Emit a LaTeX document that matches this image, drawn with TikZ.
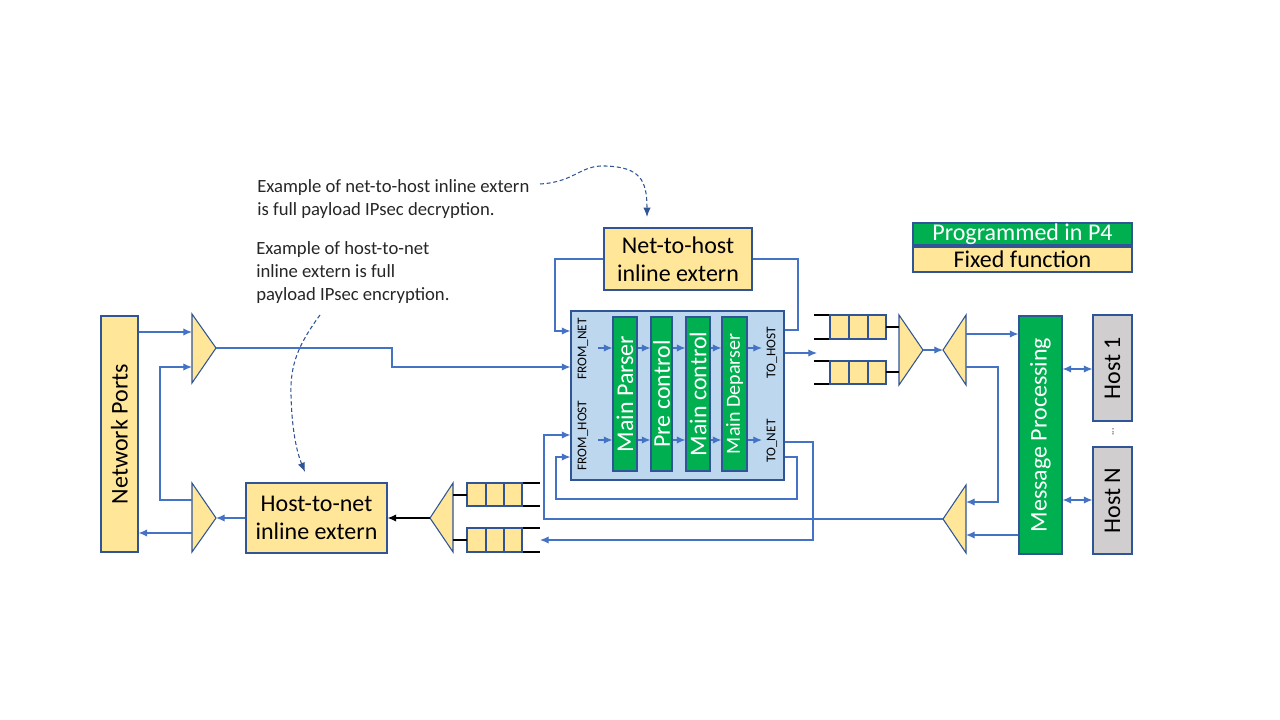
\documentclass[tikz,border=0pt]{standalone}
\usepackage{fontspec}
\setmainfont{Carlito}
\usetikzlibrary{arrows.meta}
\definecolor{cyel}{HTML}{FFE699}
\definecolor{cgrn}{HTML}{00B050}
\definecolor{cblu}{HTML}{BDD7EE}
\definecolor{cgry}{HTML}{D0CECE}
\definecolor{cbrd}{HTML}{2F5597}
\definecolor{cln}{HTML}{4472C4}
\definecolor{ctxt}{HTML}{262626}
\tikzset{
 box/.style={draw=cbrd, line width=0.8pt, inner sep=0pt, align=center},
 ybox/.style={box, fill=cyel},
 gbox/.style={box, fill=cgrn, text=white},
 hbox/.style={box, fill=cgry},
 wh/.style 2 args={minimum width=#1*0.75pt, minimum height=#2*0.75pt},
 f18/.style={font=\fontsize{18}{21}\selectfont},
 lbl/.style={font=\fontsize{10}{12}\selectfont, inner sep=0pt, rotate=90},
 conn/.style={draw=cln, line width=0.9pt},
 arr/.style={conn, -{Latex[length=6.5pt,width=5.5pt]}},
 darr/.style={conn, {Latex[length=6.5pt,width=5.5pt]}-{Latex[length=6.5pt,width=5.5pt]}},
 mux/.style={draw=cbrd, line width=0.8pt, fill=cyel, line join=miter},
 qline/.style={draw=black, line width=0.8pt},
 qcell/.style={draw=cbrd, line width=0.8pt, fill=cyel},
 dsh/.style={draw=cbrd, line width=0.8pt, dash pattern=on 3pt off 2pt, -{Latex[length=7pt,width=5.5pt]}},
 ann/.style={anchor=west, align=left, inner sep=0pt, text=ctxt, font=\fontsize{14}{17.25}\selectfont}
}
\begin{document}
\begin{tikzpicture}[x=0.75pt,y=-0.75pt]
\useasboundingbox (0,0) rectangle (1280,720);

% annotations
\node[ann] (ann1) at (257,199) {Example of net-to-host inline extern\\is full payload IPsec decryption.};
\node[ann] (ann2) at (256,273) {Example of host-to-net\\inline extern is full\\payload IPsec encryption.};
\coordinate (c1s) at (540,184);
\coordinate (c1e) at (647,217);
\draw[dsh] (c1s) .. controls (575,182) and (580,165) .. (605,166) .. controls (640,167) and (647,180) .. (c1e);
\coordinate (c2s) at (320,315);
\coordinate (c2e) at (305,472);
\draw[dsh] (c2s) .. controls (298,345) and (290,365) .. (291,395) .. controls (292,435) and (298,455) .. (c2e);

% legend
\node[gbox, wh={219}{22}, f18] (lg) at (1022.5,234) {Programmed in P4};
\node[ybox, wh={219}{25}, f18] (ly) at (1022.5,259.5) {Fixed function};

% boxes
\node[ybox, wh={37}{236}, f18] (np) at (119.5,434) {\rotatebox{90}{Network Ports}};
\node[ybox, wh={141}{70}, f18] (h2n) at (316.5,518) {Host-to-net\\inline extern};
\node[ybox, wh={148}{62}, f18] (n2h) at (678,259) {Net-to-host\\inline extern};
\node[box, fill=cblu, wh={213}{169}] (blk) at (677.5,395.5) {};
\node[gbox, wh={24}{154}, f18] (mp) at (625,394) {\rotatebox{90}{Main Parser}};
\node[gbox, wh={21}{154}, f18] (pc) at (661.5,394) {\rotatebox{90}{Pre control}};
\node[gbox, wh={24}{154}, f18] (mc) at (698,394) {\rotatebox{90}{Main control}};
\node[gbox, wh={25}{154}, font=\fontsize{15}{18}\selectfont] (md) at (734.5,394) {\rotatebox{90}{Main Deparser}};
\node[gbox, wh={43}{238}, f18] (msg) at (1040.5,435) {\rotatebox{90}{Message Processing}};
\node[hbox, wh={39}{106}, f18] (h1) at (1112.5,368) {\rotatebox{90}{Host 1}};
\node[hbox, wh={39}{107}, f18] (hn) at (1112.5,500.5) {\rotatebox{90}{Host N}};
\node[rotate=90, inner sep=0pt, font=\fontsize{7}{7}\selectfont] (dots) at (1113,432) {...};

% block labels
\node[lbl] (lfn) at (583,349) {FROM\_NET};
\node[lbl] (lfh) at (583,435.5) {FROM\_HOST};
\node[lbl] (lth) at (772,352.5) {TO\_HOST};
\node[lbl] (ltn) at (772,441) {TO\_NET};

% triangles
\coordinate (t1tip) at (216,348);
\draw[mux] (192,314) -- (t1tip) -- (192,383) -- cycle;
\coordinate (t2tip) at (216,518);
\draw[mux] (192,483) -- (t2tip) -- (192,552) -- cycle;
\coordinate (t3tip) at (430,518);
\draw[mux] (453,483) -- (t3tip) -- (453,552) -- cycle;
\coordinate (t4tip) at (923,350);
\draw[mux] (899,315) -- (t4tip) -- (899,385) -- cycle;
\coordinate (t5tip) at (943,350);
\draw[mux] (966,315) -- (t5tip) -- (966,385) -- cycle;
\coordinate (t6tip) at (943,519);
\draw[mux] (966,485) -- (t6tip) -- (966,553) -- cycle;

% queues left (open to the right)
\foreach \ya/\yb in {483/506, 528/552}{
  \draw[qline] (513,\ya) -- (540,\ya);
  \draw[qline] (513,\yb) -- (540,\yb);
  \draw[qcell] (467,\ya) rectangle (522,\yb);
  \draw[qcell] (486,\ya) -- (486,\yb) (504,\ya) -- (504,\yb);
}
\draw[qline] (453,495) -- (467,495);
\draw[qline] (453,540) -- (467,540);
% queues right (open to the left)
\foreach \ya/\yb in {315/339, 361/384}{
  \draw[qline] (814,\ya) -- (839,\ya);
  \draw[qline] (814,\yb) -- (839,\yb);
  \draw[qcell] (830,\ya) rectangle (886,\yb);
  \draw[qcell] (849,\ya) -- (849,\yb) (868,\ya) -- (868,\yb);
}
\draw[qline] (886,327) -- (899,327);
\draw[qline] (886,372) -- (899,372);

% connectors left
\draw[arr] (np.east |- 0,332) -- (192,332);
\draw[arr] (192,500) -- (160,500) |- (192,367);
\draw[arr] (192,533) -- (np.east |- 0,533);
\draw[arr] (h2n.west) -- (t2tip);
\draw[draw=black, line width=0.9pt, -{Latex[length=6.5pt,width=5.5pt]}] (t3tip) -- (h2n.east);
\draw[arr] (t1tip) -- (392,348) |- (blk.west |- 0,367);

% net-to-host loop
\draw[arr] (n2h.west) -- (555,259) |- (blk.west |- 0,331);
\draw[conn] (blk.east |- 0,330) -- (798,330) |- (n2h.east);

% stage arrows
\foreach \yy in {348,440}{
  \draw[arr] (598,\yy) -- (mp.west |- 0,\yy);
  \draw[arr] (mp.east |- 0,\yy) -- (pc.west |- 0,\yy);
  \draw[arr] (pc.east |- 0,\yy) -- (mc.west |- 0,\yy);
  \draw[arr] (mc.east |- 0,\yy) -- (md.west |- 0,\yy);
  \draw[arr] (md.east |- 0,\yy) -- (762,\yy);
}

% outputs
\coordinate (qin) at (817,353);
\draw[arr] (blk.east |- 0,353) -- (qin);
\draw[arr] (t4tip) -- (t5tip);
\draw[arr] (966,334) -- (msg.west |- 0,334);
\draw[arr] (966,367) -- (998,367) |- (966,502);
\draw[arr] (msg.west |- 0,535) -- (966,535);
\draw[arr] (t6tip) -- (544,519) |- (blk.west |- 0,435);
\draw[arr] (blk.east |- 0,442) -- (813,442) |- (540,540);
\draw[arr] (blk.east |- 0,457) -- (797,457) |- (556,499) |- (blk.west |- 0,457);

% hosts
\draw[darr] (msg.east |- 0,369) -- (h1.west |- 0,369);
\draw[darr] (msg.east |- 0,500) -- (hn.west |- 0,500);
\end{tikzpicture}
\end{document}
